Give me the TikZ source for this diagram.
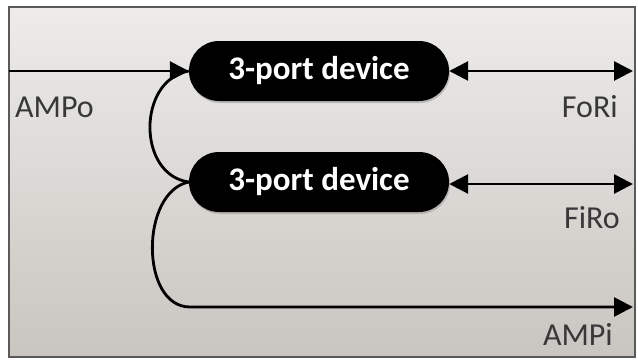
\documentclass[tikz,border=0pt]{standalone}
\usepackage{fontspec}
\setmainfont{Carlito}
\usetikzlibrary{arrows.meta,shadows,shapes.misc}
\definecolor{bgtop}{HTML}{EDECEA}
\definecolor{bgbot}{HTML}{C9C5C0}
\definecolor{framec}{HTML}{5A5A5A}
\definecolor{labelc}{HTML}{383838}
\begin{document}
\begin{tikzpicture}[x=1pt,y=-1pt,
  device/.style={rounded rectangle, fill=black, minimum width=260pt, minimum height=60pt,
    text=white, font=\bfseries\fontsize{33}{36}\selectfont, inner sep=0pt,
    drop shadow={opacity=0.4, shadow xshift=1pt, shadow yshift=-2pt}},
  wire/.style={line width=2.8pt, black},
  sig/.style={wire, -{Triangle[length=19pt,width=19pt]}},
  sigboth/.style={wire, {Triangle[length=19pt,width=19pt]}-{Triangle[length=19pt,width=19pt]}},
  lab/.style={text=labelc, font=\fontsize{32}{36}\selectfont, inner sep=0pt}
]
\useasboundingbox (0,0) rectangle (638,360);
\path[top color=bgtop, bottom color=bgbot, draw=framec, line width=1.8pt] (9,7) rectangle (635,357);

\node[device] (n1) at (319,71) {\raisebox{-2pt}{3-port device}};
\node[device] (n2) at (319,182) {\raisebox{-2pt}{3-port device}};

\coordinate (ampoin) at (9,71);
\coordinate (fori) at (633,71);
\coordinate (firo) at (633,184);
\coordinate (bend) at (190,307);
\coordinate (ampi) at (633,307);

\draw[sig] (ampoin) -- (n1.west);
\draw[sigboth] (n1.east) -- (fori);
\draw[sigboth] (n2.east |- firo) -- (firo);
\draw[wire] (n1.west) .. controls (137,80) and (137,175) .. (n2.west);
\draw[sig] (n2.west) .. controls (140,192) and (140,307) .. (bend) -- (ampi);

\node[lab, anchor=base west] (lampo) at (15,117) {AMPo};
\node[lab, anchor=base east] (lfori) at (618,117) {FoRi};
\node[lab, anchor=base east] (lfiro) at (620,228) {FiRo};
\node[lab, anchor=base east] (lampi) at (613,345) {AMPi};
\end{tikzpicture}
\end{document}
